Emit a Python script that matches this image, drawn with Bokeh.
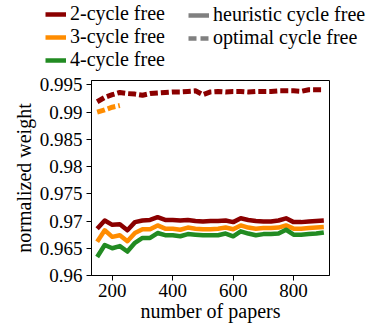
from bokeh.plotting import figure
from bokeh.layouts import column
from bokeh.models import Legend, LegendItem, FixedTicker, CustomJSTickFormatter, Range1d
from bokeh.embed import file_html
from bokeh.resources import INLINE

papers = [150, 175, 200, 225, 250, 275, 300, 325, 350, 375, 400, 425, 450, 475, 500,
          525, 550, 575, 600, 625, 650, 675, 700, 725, 750, 775, 800, 825, 850, 875, 900]

heur_2 = [0.9686, 0.9701, 0.9693, 0.9694, 0.9683, 0.9698, 0.9701, 0.9702, 0.9707, 0.9702,
          0.9702, 0.9701, 0.9702, 0.9700, 0.9699, 0.9700, 0.9700, 0.9701, 0.9698, 0.9705,
          0.9702, 0.9700, 0.9699, 0.9699, 0.9701, 0.9705, 0.9698, 0.9698, 0.9699, 0.9700, 0.9701]
heur_3 = [0.9662, 0.9683, 0.9671, 0.9674, 0.9663, 0.9678, 0.9685, 0.9685, 0.9692, 0.9686,
          0.9686, 0.9684, 0.9688, 0.9686, 0.9685, 0.9685, 0.9686, 0.9688, 0.9685, 0.9692,
          0.9688, 0.9686, 0.9687, 0.9687, 0.9688, 0.9692, 0.9686, 0.9686, 0.9687, 0.9688, 0.9689]
heur_4 = [0.9634, 0.9656, 0.9650, 0.9654, 0.9644, 0.9660, 0.9669, 0.9669, 0.9678, 0.9674,
          0.9674, 0.9672, 0.9676, 0.9675, 0.9674, 0.9674, 0.9674, 0.9677, 0.9672, 0.9681,
          0.9677, 0.9674, 0.9676, 0.9676, 0.9677, 0.9684, 0.9675, 0.9675, 0.9676, 0.9677, 0.9679]

opt_2 = [0.9919, 0.9927, 0.9932, 0.9936, 0.9934, 0.9933, 0.9931, 0.9934, 0.9935, 0.9936,
         0.9937, 0.9937, 0.9938, 0.9939, 0.9932, 0.9937, 0.9938, 0.9937, 0.9938, 0.9938,
         0.9937, 0.9938, 0.9938, 0.9938, 0.9939, 0.9939, 0.9939, 0.9938, 0.9941, 0.9941, 0.9941]
opt_3_papers = [150, 175, 200, 225]
opt_3 = [0.9900, 0.9904, 0.9909, 0.9912]

y_ticks = [0.96, 0.965, 0.97, 0.975, 0.98, 0.985, 0.99, 0.995]
y_tick_labels = ["0.96", "0.965", "0.97", "0.975", "0.98", "0.985", "0.99", "0.995"]
x_ticks = [200, 400, 600, 800]

RED = "#8b0000"
ORANGE = "#ff8c00"
GREEN = "#228b22"
GREY = "#808080"
FONT = "'Liberation Serif', 'Times New Roman', serif"

# ---- legend strip above the plot (proxy lines lie outside its visible range) ----
lf = figure(frame_width=375, frame_height=74, x_range=Range1d(0, 1), y_range=Range1d(0, 1),
            x_axis_type=None, y_axis_type=None, output_backend="svg", toolbar_location=None,
            min_border=0)
lf.outline_line_color = None
lf.xgrid.visible = False
lf.ygrid.visible = False
proxy = [5, 6]
l_h2 = lf.line(proxy, proxy, color=RED, line_width=4.5)
l_h3 = lf.line(proxy, proxy, color=ORANGE, line_width=4.5)
l_h4 = lf.line(proxy, proxy, color=GREEN, line_width=4.5)
l_heur = lf.line(proxy, proxy, color=GREY, line_width=4.5)
l_opt = lf.line(proxy, proxy, color=GREY, line_width=4.5, line_dash="8 4")


def make_legend(items, loc):
    return Legend(items=items, location=loc, orientation="vertical",
                  border_line_color=None, background_fill_alpha=0,
                  padding=0, spacing=0, margin=0,
                  label_height=22, glyph_height=22, glyph_width=21, label_standoff=4,
                  label_text_font=FONT, label_text_font_size="20px",
                  label_text_color="black")


lf.add_layout(make_legend([LegendItem(label="2-cycle free", renderers=[l_h2]),
                           LegendItem(label="3-cycle free", renderers=[l_h3]),
                           LegendItem(label="4-cycle free", renderers=[l_h4])], (45, 3)))
lf.add_layout(make_legend([LegendItem(label="heuristic cycle free", renderers=[l_heur]),
                           LegendItem(label="optimal cycle free", renderers=[l_opt])], (188, 25)))

# ---- main plot ----
p = figure(frame_width=238, frame_height=195,
           x_range=Range1d(131.25, 918.75), y_range=Range1d(0.96, 0.9958),
           output_backend="svg", toolbar_location=None,
           min_border_left=91, min_border_top=6, min_border_right=30, min_border_bottom=0)

p.xgrid.visible = False
p.ygrid.visible = False
p.outline_line_color = "black"
p.outline_line_width = 1

p.line(papers, heur_2, color=RED, line_width=4.5, line_join="round")
p.line(papers, heur_3, color=ORANGE, line_width=4.5, line_join="round")
p.line(papers, heur_4, color=GREEN, line_width=4.5, line_join="round")
p.line(papers, opt_2, color=RED, line_width=5, line_dash="8 3")
p.line(opt_3_papers, opt_3, color=ORANGE, line_width=5, line_dash="8 3")

for ax in (p.xaxis[0], p.yaxis[0]):
    ax.major_label_text_font = FONT
    ax.major_label_text_font_size = "19px"
    ax.major_label_text_color = "black"
    ax.axis_label_text_font = FONT
    ax.axis_label_text_font_size = "20px"
    ax.axis_label_text_font_style = "normal"
    ax.axis_label_text_color = "black"
    ax.axis_line_color = "black"
    ax.major_tick_line_color = "black"
    ax.major_tick_out = 5
    ax.major_tick_in = 0
    ax.minor_tick_line_color = None
    ax.major_label_standoff = 4
    ax.axis_label_standoff = 2
p.xaxis[0].major_label_standoff = 3
p.xaxis[0].axis_label_standoff = 0

p.xaxis.ticker = FixedTicker(ticks=x_ticks)
p.yaxis.ticker = FixedTicker(ticks=y_ticks)
p.yaxis.formatter = CustomJSTickFormatter(
    args=dict(yt=y_ticks, yl=y_tick_labels),
    code="""
    for (let i = 0; i < yt.length; i++) {
        if (Math.abs(yt[i] - tick) < 1e-9) return yl[i];
    }
    return tick.toString();
    """)
p.xaxis.axis_label = "number of papers"
p.yaxis.axis_label = "normalized weight"

layout = column(lf, p, spacing=0)
open("out.html", "w").write(file_html(layout, INLINE))
